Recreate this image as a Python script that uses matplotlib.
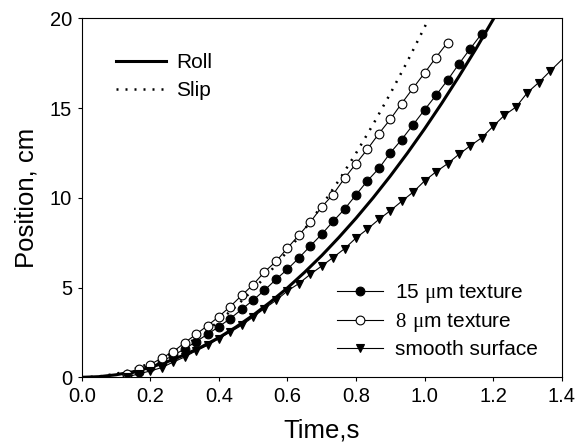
"""Position vs time for balls on textured and smooth surfaces, with roll/slip models."""

import matplotlib

matplotlib.use("Agg")
import matplotlib.pyplot as plt

# model curves
model_time = [0.0, 0.05, 0.1, 0.15, 0.2, 0.25, 0.3, 0.35, 0.4, 0.45, 0.5, 0.55, 0.6,
              0.65, 0.7, 0.75, 0.8, 0.85, 0.9, 0.95, 1.0, 1.05, 1.1, 1.15, 1.2, 1.25]
roll_pos = [0.0, 0.035, 0.14, 0.31, 0.55, 0.87, 1.25, 1.70, 2.21, 2.80, 3.46, 4.19, 4.98,
            5.85, 6.78, 7.79, 8.86, 10.0, 11.21, 12.49, 13.84, 15.26, 16.75, 18.30, 19.93, 21.6]
slip_time = [0.0, 0.05, 0.1, 0.15, 0.2, 0.25, 0.3, 0.35, 0.4, 0.45, 0.5, 0.55, 0.6,
             0.65, 0.7, 0.75, 0.8, 0.85, 0.9, 0.95, 1.0, 1.05]
slip_pos = [0.0, 0.049, 0.195, 0.44, 0.78, 1.22, 1.76, 2.39, 3.12, 3.95, 4.88, 5.90, 7.02,
            8.24, 9.56, 10.97, 12.48, 14.09, 15.80, 17.60, 19.50, 21.50]

# measured data, 30 frames per second
time_15um = [0.133, 0.167, 0.200, 0.233, 0.267, 0.300, 0.333, 0.367, 0.400, 0.433, 0.467,
             0.500, 0.533, 0.567, 0.600, 0.633, 0.667, 0.700, 0.733, 0.767, 0.800, 0.833,
             0.867, 0.900, 0.933, 0.967, 1.000, 1.033, 1.067, 1.100, 1.133, 1.167]
pos_15um = [0.12, 0.32, 0.58, 0.88, 1.22, 1.58, 1.98, 2.40, 2.82, 3.27, 3.79,
            4.30, 4.85, 5.46, 6.02, 6.64, 7.32, 7.97, 8.68, 9.38, 10.16, 10.94,
            11.64, 12.50, 13.24, 14.08, 14.90, 15.70, 16.55, 17.45, 18.30, 19.15]

time_8um = [0.133, 0.167, 0.200, 0.233, 0.267, 0.300, 0.333, 0.367, 0.400, 0.433, 0.467,
            0.500, 0.533, 0.567, 0.600, 0.633, 0.667, 0.700, 0.733, 0.767, 0.800, 0.833,
            0.867, 0.900, 0.933, 0.967, 1.000, 1.033, 1.067]
pos_8um = [0.20, 0.45, 0.71, 1.07, 1.43, 1.92, 2.39, 2.88, 3.38, 3.94, 4.57,
           5.16, 5.87, 6.46, 7.20, 7.91, 8.65, 9.49, 10.18, 11.10, 11.90, 12.70,
           13.58, 14.37, 15.25, 16.12, 16.95, 17.81, 18.65]

time_smooth = [0.133, 0.167, 0.200, 0.233, 0.267, 0.300, 0.333, 0.367, 0.400, 0.433, 0.467,
               0.500, 0.533, 0.567, 0.600, 0.633, 0.667, 0.700, 0.733, 0.767, 0.800, 0.833,
               0.867, 0.900, 0.933, 0.967, 1.000, 1.033, 1.067, 1.100, 1.133, 1.167, 1.200,
               1.233, 1.267, 1.300, 1.333, 1.367, 1.433]
pos_smooth = [0.02, 0.20, 0.35, 0.54, 0.85, 1.13, 1.47, 1.78, 2.16, 2.52, 2.90,
              3.36, 3.83, 4.29, 4.81, 5.22, 5.74, 6.20, 6.67, 7.17, 7.76, 8.25,
              8.80, 9.28, 9.80, 10.32, 10.94, 11.44, 11.90, 12.42, 12.89, 13.35, 13.98,
              14.60, 15.06, 15.86, 16.42, 17.07, 18.30]

x_ticks = [0.0, 0.2, 0.4, 0.6, 0.8, 1.0, 1.2, 1.4]
y_ticks = [0, 5, 10, 15, 20]

plt.rcParams["font.family"] = ["Liberation Sans", "DejaVu Sans"]
plt.rcParams["mathtext.fontset"] = "custom"
plt.rcParams["mathtext.rm"] = "Liberation Serif"

fig = plt.figure(figsize=(5.8, 4.43), dpi=100)
ax = fig.add_axes([0.1409, 0.1483, 0.8275, 0.8104])

roll, = ax.plot(model_time, roll_pos, color="black", lw=2.2, label="Roll", zorder=3)
slip, = ax.plot(slip_time, slip_pos, color="black", lw=1.8, ls=(0, (0.8, 2.8)), label="Slip", zorder=3)

marker_kw = dict(color="black", lw=0.8, markersize=6.3, markeredgewidth=0.8, zorder=4)
d15, = ax.plot(time_15um, pos_15um, marker="o", markerfacecolor="black",
               label=r"15 $\mathrm{\mu}$m texture", **marker_kw)
d8, = ax.plot(time_8um, pos_8um, marker="o", markerfacecolor="white",
              label=r"$\mathrm{8\ \mu}$m texture", **marker_kw)
dsm, = ax.plot(time_smooth, pos_smooth, marker="v", markerfacecolor="black",
               label="smooth surface", **marker_kw)

ax.set_xlim(0.0, 1.4)
ax.set_ylim(0, 20)
ax.set_xticks(x_ticks)
ax.set_xticklabels([f"{v:.1f}" for v in x_ticks])
ax.set_yticks(y_ticks)
ax.set_yticklabels([str(v) for v in y_ticks])
ax.tick_params(direction="out", length=3, width=0.8, labelsize=14.5, pad=4)
for spine in ax.spines.values():
    spine.set_linewidth(0.8)

ax.set_xlabel("Time,s", fontsize=18.5, labelpad=9)
ax.set_ylabel("Position, cm", fontsize=18.5, labelpad=8)

leg1 = ax.legend(handles=[roll, slip], loc="upper left", bbox_to_anchor=(0.0715, 0.902),
                 frameon=False, fontsize=15, handlelength=2.4, handletextpad=0.48,
                 labelspacing=0.42, borderpad=0, borderaxespad=0)
ax.add_artist(leg1)
ax.legend(handles=[d15, d8, dsm], loc="upper left", bbox_to_anchor=(0.531, 0.266),
          frameon=False, fontsize=15, handlelength=2.24, handletextpad=0.56,
          labelspacing=0.3, borderpad=0, borderaxespad=0, numpoints=1)

fig.savefig("out.png", dpi=100)
